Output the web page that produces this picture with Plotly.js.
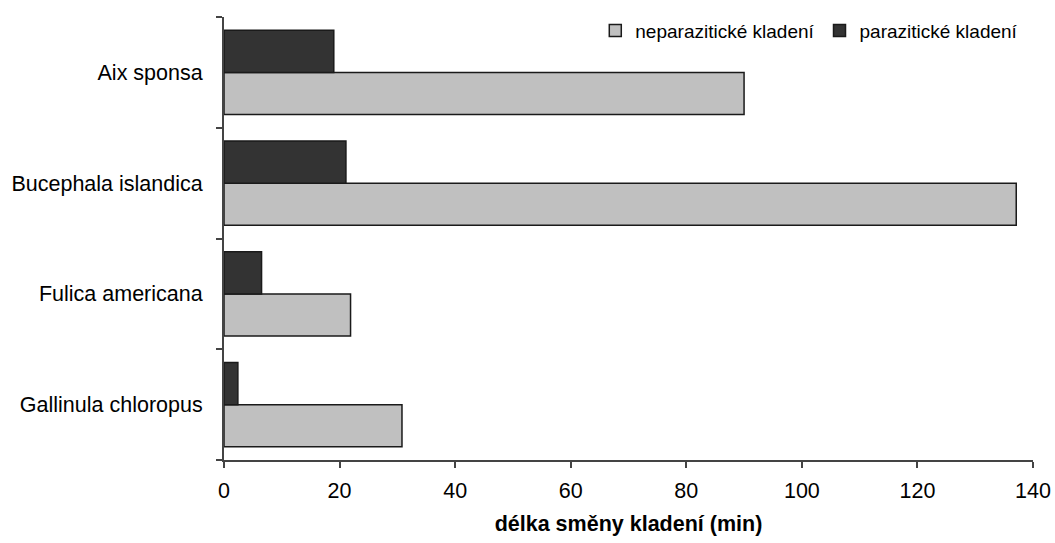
<!DOCTYPE html>
<html>
<head>
<meta charset="utf-8">
<script src="https://cdn.plot.ly/plotly-3.0.1.min.js"></script>
<style>html,body{margin:0;padding:0;background:#fff}#chart{width:1055px;height:543px}</style>
</head>
<body>
<div id="chart"></div>
<script>
const categories = ["Aix sponsa", "Bucephala islandica", "Fulica americana", "Gallinula chloropus"];
const neparaziticke = [90, 137.1, 21.9, 30.8];
const paraziticke = [19, 21.1, 6.5, 2.4];
const seriesNames = ["neparazitické kladení", "parazitické kladení"];
const xTicks = [0, 20, 40, 60, 80, 100, 120, 140];

const font = "Liberation Sans, Arial, sans-serif";
const traces = [
  {type: "bar", orientation: "h", name: seriesNames[0], y: categories, x: neparaziticke,
   marker: {color: "#c0c0c0", line: {color: "#1a1a1a", width: 1.5}}},
  {type: "bar", orientation: "h", name: seriesNames[1], y: categories, x: paraziticke,
   marker: {color: "#333333", line: {color: "#1a1a1a", width: 1.5}}}
];
const layout = {
  width: 1055, height: 543,
  margin: {l: 224, r: 22, t: 15, b: 83},
  paper_bgcolor: "#fff", plot_bgcolor: "#fff",
  barmode: "group", bargap: 0.24, bargroupgap: 0,
  font: {family: font, color: "#000", size: 21.5},
  showlegend: true,
  legend: {orientation: "h", x: 0.988, xanchor: "right", y: 1.012, yanchor: "top",
           font: {family: font, size: 19}, traceorder: "normal", bgcolor: "rgba(0,0,0,0)"},
  xaxis: {range: [0, 140], tickvals: xTicks, ticktext: xTicks.map(String),
          showgrid: false, zeroline: false, showline: true, linecolor: "#444", linewidth: 2,
          ticks: "outside", ticklen: 6, tickwidth: 2, tickcolor: "#444",
          tickfont: {size: 21.5, family: font}, ticklabelstandoff: 4,
          title: {text: "<b>délka směny kladení (min)</b>", font: {size: 21.5, family: font}, standoff: 14}},
  yaxis: {type: "category", categoryorder: "array", categoryarray: categories.slice().reverse(),
          showgrid: false, zeroline: false, showline: true, linecolor: "#444", linewidth: 2,
          ticks: "outside", ticklen: 6, tickwidth: 2, tickcolor: "#444", tickson: "boundaries",
          tickfont: {size: 21.5, family: font}, ticklabelstandoff: 15}
};
Plotly.newPlot("chart", traces, layout, {displayModeBar: false, staticPlot: true});
</script>
</body>
</html>
